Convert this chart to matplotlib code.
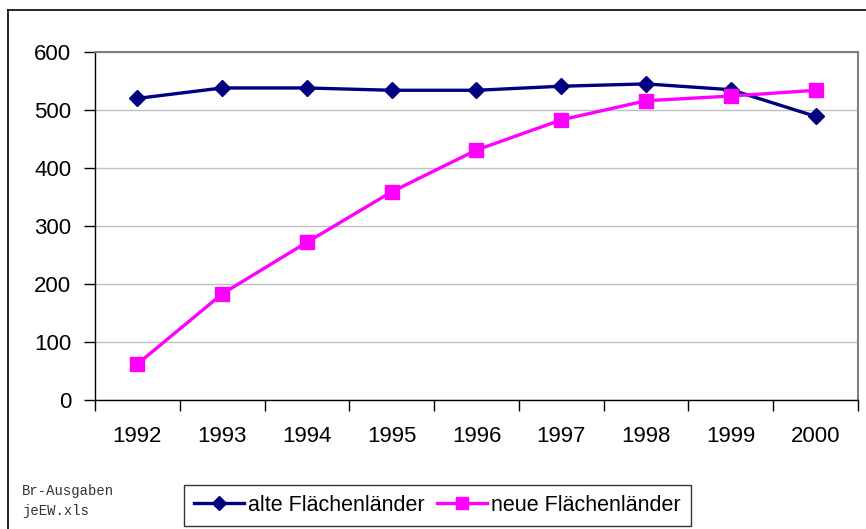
import matplotlib
matplotlib.use('Agg')
import matplotlib.pyplot as plt
from matplotlib.lines import Line2D

years = ['1992', '1993', '1994', '1995', '1996', '1997', '1998', '1999', '2000']
alte = [520, 538, 538, 534, 534, 541, 545, 535, 489]
neue = [62, 183, 272, 359, 431, 483, 516, 524, 534]
y_ticks = [0, 100, 200, 300, 400, 500, 600]

plt.rcParams['font.family'] = ['Liberation Sans', 'DejaVu Sans']

fig = plt.figure(figsize=(8.66, 5.29), dpi=100)
ax = fig.add_axes([95/866, 1 - 400/529, (858-95)/866, (400-52)/529])

x = list(range(len(years)))
ax.plot(x, alte, color='#000080', lw=2.4, marker='D', ms=8.5,
        label='alte Flächenländer', zorder=3)
ax.plot(x, neue, color='#FF00FF', lw=2.4, marker='s', ms=9.5,
        label='neue Flächenländer', zorder=3)

ax.set_xlim(-0.5, len(years) - 0.5)
ax.set_ylim(0, 600)
ax.set_yticks(y_ticks)
ax.set_yticklabels([str(v) for v in y_ticks], fontsize=16)
ax.set_xticks(x)
ax.set_xticklabels(years, fontsize=16)
ax.set_xticks([i - 0.5 for i in range(len(years) + 1)], minor=True)
ax.tick_params(axis='x', which='major', length=0, pad=19)
ax.tick_params(axis='x', which='minor', length=8, width=1, direction='out')
ax.tick_params(axis='y', length=8, width=1, direction='out', pad=9)

ax.yaxis.grid(True, color='#c0c0c0', lw=1)
ax.set_axisbelow(True)
for s in ['left', 'bottom']:
    ax.spines[s].set_color('black')
    ax.spines[s].set_linewidth(1)
for s in ['top', 'right']:
    ax.spines[s].set_color('#808080')
    ax.spines[s].set_linewidth(1.5)

# legend
handles = [
    Line2D([], [], color='#000080', lw=2.4, marker='D', ms=7),
    Line2D([], [], color='#FF00FF', lw=2.4, marker='s', ms=8),
]
leg = fig.legend(handles, ['alte Flächenländer', 'neue Flächenländer'],
                 loc='center', bbox_to_anchor=(437.5/866, 1 - 505.5/529), ncol=2,
                 fontsize=15.5, frameon=True, fancybox=False, handlelength=2.3,
                 handletextpad=0.2, columnspacing=0.6, borderpad=0.45)
leg.get_frame().set_edgecolor('black')
leg.get_frame().set_linewidth(1)

# outer frame (left and top edges)
fig.add_artist(Line2D([8/866, 8/866], [0, 1 - 10/529], color='black', lw=1.2))
fig.add_artist(Line2D([8/866, 1], [1 - 10/529, 1 - 10/529], color='black', lw=1.2))

fig.text(22/866, 1 - 490.5/529, 'Br-Ausgaben', fontsize=10, family='Liberation Mono',
         va='center', color='#333333')
fig.text(22/866, 1 - 511.5/529, 'jeEW.xls', fontsize=10, family='Liberation Mono',
         va='center', color='#333333')

fig.savefig('out.png', dpi=100)
